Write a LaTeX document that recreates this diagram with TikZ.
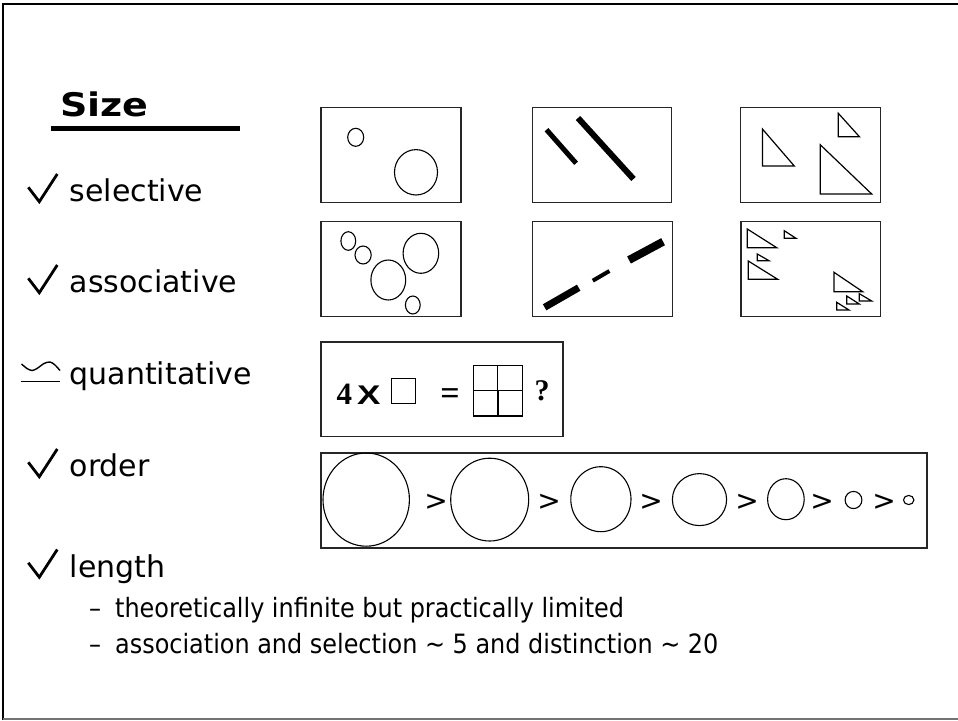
\documentclass[tikz,border=0pt]{standalone}
\usepackage{fontspec}
\usepackage{graphicx}
\setmainfont{DejaVu Sans}
\newfontfamily\condfont{DejaVu Sans Condensed}
\newfontfamily\tnr{Liberation Serif}
\newfontfamily\arl{Liberation Sans}
\begin{document}
\begin{tikzpicture}[x=1pt,y=-1pt,
  panel/.style={draw=black!85,line width=1.3pt},
  shp/.style={draw=black,line width=1.1pt},
  tri/.style={draw=black,line width=1.2pt,line join=miter},
  chk/.style={draw=black,line width=2.8pt,line join=miter,line cap=butt},
  item/.style={anchor=base west,inner sep=0pt,font=\fontsize{30}{30}\selectfont},
  sub/.style={anchor=base west,inner sep=0pt,font=\condfont\fontsize{26.6}{26.6}\selectfont},
  gt/.style={anchor=center,inner sep=0pt,font=\fontsize{28}{28}\selectfont}]
\useasboundingbox (0,0) rectangle (958,720);
\fill[white] (0,0) rectangle (958,720);
% page frame
\draw[line width=2.5pt] (3.2,720) -- (3.2,3.8) -- (958,3.8);
\draw[black!55,line width=1.5pt] (3.2,719.2) -- (958,719.2);
% title
\node[anchor=base west,inner sep=0pt,font=\bfseries\fontsize{32.5}{32.5}\selectfont] (title) at (60,116.7) {\scalebox{1.17}[1]{Size}};
\draw[line width=4.5pt] (51,128.3) -- (240,128.3);
% check marks
\foreach \dy in {0,91,275,375.5}{
  \draw[chk] (28.3,187.3+\dy) -- (39.3,201.7+\dy) -- (57.3,174+\dy);
}
% quantitative symbol
\draw[line width=1.4pt] (20.7,381.7) -- (60,381.7);
\draw[line width=1.4pt] plot[smooth] coordinates {(21.5,364) (27,368.5) (32,370.5) (37,368.5) (44,363.5) (50,362) (55,365) (60,370.5)};
% item texts
\node[item] (tsel) at (69.5,201.7) {selective};
\node[item] (tass) at (69.5,292.7) {associative};
\node[item] (tqua) at (69.5,384.5) {quantitative};
\node[item] (tord) at (69.5,476.7) {order};
\node[item] (tlen) at (69.5,577) {length};
\node[sub] (s1) at (89,617) {\textendash\hspace{14pt}theoretically infinite but practically limited};
\node[sub] (s2) at (89,653) {\textendash\hspace{14pt}association and selection \textasciitilde{} 5 and distinction \textasciitilde{} 20};
% row 1 boxes
\draw[panel] (321,107.3) rectangle (461,202.7);
\draw[panel] (532.3,107.3) rectangle (671.5,202.7);
\draw[panel] (740.7,107.3) rectangle (880.3,202.7);
\draw[shp] (355.7,137.3) ellipse [x radius=8pt,y radius=9pt];
\draw[shp] (416,172.3) ellipse [x radius=21.5pt,y radius=22.7pt];
\draw[line width=5pt] (546.5,129.7) -- (576.1,163.3);
\draw[line width=6pt] (578,118) -- (633.5,179);
\draw[tri] (762.4,129) -- (762.4,166) -- (794.3,166) -- cycle;
\draw[tri] (838.3,113.3) -- (838.3,136.7) -- (859.4,136.7) -- cycle;
\draw[tri] (820.2,144.7) -- (820.2,194) -- (871.7,194) -- cycle;
% row 2 boxes
\draw[panel] (321,221.7) rectangle (461,316.7);
\draw[panel] (532.8,221.7) rectangle (672.2,316.7);
\draw[panel] (741,221.7) rectangle (880.7,316.7);
\draw[shp] (348.3,241) ellipse [x radius=7.4pt,y radius=9.3pt];
\draw[shp] (363.1,255) ellipse [x radius=8.1pt,y radius=9pt];
\draw[shp] (388.3,280) ellipse [x radius=17.4pt,y radius=20pt];
\draw[shp] (420.9,253.3) ellipse [x radius=17.8pt,y radius=20pt];
\draw[shp] (412.8,305) ellipse [x radius=7.4pt,y radius=9pt];
\draw[line width=7pt] (544.6,307.3) -- (578.7,287.7);
\draw[line width=4pt] (592.8,280.7) -- (609.4,271);
\draw[line width=8pt] (629,260) -- (663.1,241.7);
\draw[tri] (747.3,229) -- (747.3,247.7) -- (776.7,247.7) -- cycle;
\draw[tri] (784.3,230.7) -- (784.3,238.3) -- (796,238.3) -- cycle;
\draw[tri] (757.3,254) -- (757.3,260.7) -- (769,260.7) -- cycle;
\draw[tri] (748.3,261) -- (748.3,279.3) -- (777.7,279.3) -- cycle;
\draw[tri] (834,272.3) -- (834,291.7) -- (862.7,291.7) -- cycle;
\draw[tri] (846.7,296) -- (846.7,304) -- (859.3,304) -- cycle;
\draw[tri] (859.3,293.7) -- (859.3,301) -- (871.7,301) -- cycle;
\draw[tri] (836.7,302.3) -- (836.7,310) -- (849,310) -- cycle;
% quantitative box
\draw[panel] (321,342) rectangle (563,436.7);
\node[anchor=base west,inner sep=0pt,font=\tnr\bfseries\fontsize{31}{31}\selectfont] (four) at (336.5,404) {4};
\node[anchor=base west,inner sep=0pt,font=\arl\bfseries\fontsize{27}{27}\selectfont] (times) at (357,404) {\scalebox{1.3}[1]{X}};
\draw[line width=1pt] (391,378.3) rectangle (415.7,403.3);
\node[anchor=base,inner sep=0pt,font=\tnr\bfseries\fontsize{34}{34}\selectfont] (eq) at (450,404) {=};
\draw[line width=1.2pt] (473.3,365.7) rectangle (522.3,416);
\draw[line width=1.2pt] (473.3,390.7) -- (522.3,390.7);
\draw[line width=1.1pt] (497.7,365.7) -- (497.7,390.7);
\draw[line width=1.8pt] (497.7,390.7) -- (497.7,416);
\node[anchor=base west,inner sep=0pt,font=\tnr\bfseries\fontsize{30}{30}\selectfont] (qm) at (534.5,400.7) {?};
% order box
\draw[panel] (321,453) rectangle (927,548);
\draw[shp] (366.2,499.6) ellipse [x radius=43.2pt,y radius=46.6pt];
\draw[shp] (489.7,499.6) ellipse [x radius=39pt,y radius=41.4pt];
\draw[shp] (600.9,499.2) ellipse [x radius=30.1pt,y radius=32.5pt];
\draw[shp] (699.5,499.6) ellipse [x radius=27.1pt,y radius=26pt];
\draw[shp] (785.9,499.2) ellipse [x radius=18.3pt,y radius=20.5pt];
\draw[shp] (853.5,500) ellipse [x radius=8.4pt,y radius=8.6pt];
\draw[shp] (908.7,500) ellipse [x radius=5.2pt,y radius=4.6pt];
\node[gt] (g1) at (436,502.7) {>};
\node[gt] (g2) at (549,502.7) {>};
\node[gt] (g3) at (651,502.7) {>};
\node[gt] (g4) at (747,502.7) {>};
\node[gt] (g5) at (822,502.7) {>};
\node[gt] (g6) at (884,502.7) {>};
\end{tikzpicture}
\end{document}
